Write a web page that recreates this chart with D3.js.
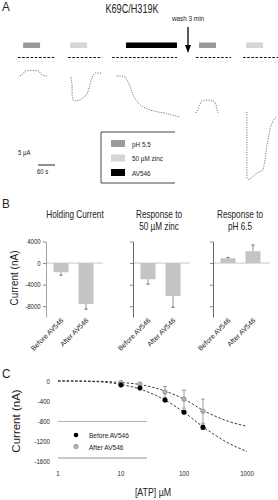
<!DOCTYPE html>
<html><head><meta charset="utf-8">
<script src="https://cdn.jsdelivr.net/npm/d3@7"></script>
<style>body{margin:0;background:#fff}svg{display:block}text{font-family:"Liberation Sans",Arial,sans-serif;fill:#222}</style>
</head><body><script>
// ---------- Panel A data ----------
const agentLabels = ["pH 5.5", "50 µM zinc", "AV546"];
const agentColors = ["#9b9b9b", "#d6d6d6", "#000000"];
const appAgent = [0, 1, 2, 0, 1];
const appStart = [18, 184, 381, 639, 805];   // s
const appEnd   = [78, 244, 561, 699, 865];   // s
const sweepStart = [0, 177, 332, 628, 794];  // s
const sweepEnd   = [131, 297, 561, 752, 918];
const washTime = 600;
// traces: [time s, current µA]
const trace1 = [[7,0],[14,0.25],[25,1.25],[46,1.4],[74,1.25],[81,0.5],[88,0.1],[102,0]];
const trace2 = [[187,-0.25],[191,-2.25],[191,-5],[194,-6],[205,-6.25],[219,-6],[233,-5.25],[244,-4.5],[251,-3],[258,-1],[265,0.25],[272,0.75],[297,0.75]];
const trace3 = [[349,0],[364,0],[378,-0.25],[385,-1],[392,-2],[399,-3.25],[409,-5.25],[424,-6.75],[441,-7.75],[466,-8.5],[494,-9],[519,-9.25],[544,-9.75],[572,-10.25]];
const trace4 = [[628,-9.25],[635,-8.5],[639,-7.5],[646,-6.5],[657,-6.1],[671,-6],[688,-6.25],[695,-6.5],[699,-7.25],[702,-8.25],[706,-9.25]];
const trace5 = [[808,-9],[808,-16],[808,-25.5],[815,-26],[826,-25.25],[844,-24.25],[865,-23.5],[872,-21],[879,-17.25],[890,-13],[900,-11.25],[911,-10.25]];
const traces = [trace1, trace2, trace3, trace4, trace5];

// ---------- Panel B data ----------
const bConditions = ["Before AV546", "After AV546"];
const bTitles = [["Holding Current"], ["Response to", "50 µM zinc"], ["Response to", "pH 6.5"]];
const holdingMean = [-1700, -7600], holdingErr = [550, 950];
const zincMean = [-3000, -6100], zincErr = [900, 2100];
const phMean = [900, 2200], phErr = [150, 1150];
const bTicks = [4000, 0, -4000, -8000];

// ---------- Panel C data ----------
const atpConc = [10, 20, 50, 100, 200];
const beforeMean = [-80, -140, -380, -620, -920];
const beforeErr = [10, 15, 20, 25, 40];
const afterMean = [-30, -60, -220, -360, -600];
const afterErr = [15, 25, 110, 180, 240];
const fitConc = [1, 2, 5, 10, 20, 50, 100, 200, 500, 1000];
const beforeFit = [0, -3, -20, -70, -160, -380, -620, -910, -1230, -1400];
const afterFit = [0, -1, -8, -30, -70, -200, -360, -580, -800, -900];
const cYTicks = [0, -400, -800, -1200, -1600];
const cXTicks = [1, 10, 100, 1000];

const W = 278, H = 500, SX = 0.8;
const svg = d3.select("body").append("svg").attr("width", W).attr("height", H);

function txt(g, x, y, s, size, anchor = "start", sx = SX) {
  return g.append("text").attr("transform", `translate(${x},${y}) scale(${sx},1)`)
    .attr("font-size", size).attr("text-anchor", anchor).text(s);
}

// ================= Panel A =================
const A = svg.append("g");
txt(A, 2, 11, "A", 13, "start", 0.9);
txt(A, 132, 13, "K69C/H319K", 12, "middle", 0.76);
const tS = d3.scaleLinear().domain([0, 60]).range([18, 35]);
const iS = d3.scaleLinear().domain([0, 5]).range([76, 56]);

A.selectAll("rect.app").data(appAgent).join("rect")
  .attr("x", (d, i) => tS(appStart[i])).attr("width", (d, i) => tS(appEnd[i]) - tS(appStart[i]))
  .attr("y", 42.5).attr("height", 5.5).attr("fill", d => agentColors[d]);

A.selectAll("line.base").data(sweepStart).join("line")
  .attr("x1", d => tS(d)).attr("x2", (d, i) => tS(sweepEnd[i]))
  .attr("y1", 57.5).attr("y2", 57.5).attr("stroke", "#111").attr("stroke-width", 1)
  .attr("stroke-dasharray", "2.6,1.6");
A.selectAll("line.base2").data(sweepStart).join("line")
  .attr("x1", d => tS(d)).attr("x2", (d, i) => tS(sweepEnd[i]))
  .attr("y1", 61.5).attr("y2", 61.5).attr("stroke", "#d4d4d4").attr("stroke-width", 0.7)
  .attr("stroke-dasharray", "1,1.5");

const wx = tS(washTime);
txt(A, wx, 21, "wash 3 min", 7.5, "middle", 0.85);
A.append("line").attr("x1", wx).attr("x2", wx).attr("y1", 27).attr("y2", 46).attr("stroke", "#000").attr("stroke-width", 1.3);
A.append("path").attr("d", `M${wx - 3},45 L${wx + 3},45 L${wx},53 Z`).attr("fill", "#000");

const tLine = d3.line().x(d => tS(d[0])).y(d => iS(d[1]));
A.selectAll("path.trace").data(traces).join("path")
  .attr("d", tLine).attr("fill", "none").attr("stroke", "#555").attr("stroke-width", 0.8)
  .attr("stroke-dasharray", "1.2,1.3");

txt(A, 18, 155, "5 µA", 7, "start", 0.85);
A.append("line").attr("x1", 38).attr("x2", 38 + tS(60) - tS(0)).attr("y1", 165).attr("y2", 165)
  .attr("stroke", "#222").attr("stroke-width", 1);
txt(A, 37, 174, "60 s", 7, "start", 0.85);

const LB = A.append("g");
LB.append("path").attr("d", "M175,132 H101 V183 H175").attr("fill", "none").attr("stroke", "#333").attr("stroke-width", 0.9);
agentLabels.forEach((l, i) => {
  const y = 140 + i * 14.5;
  LB.append("rect").attr("x", 111).attr("y", y).attr("width", 14).attr("height", 7).attr("fill", agentColors[i]);
  txt(LB, 132, y + 6.5, l, 7.5, "start", 0.85);
});

// ================= Panel B =================
const B = svg.append("g");
txt(B, 2, 208, "B", 13, "start", 0.9);
const yB = d3.scaleLinear().domain([-10000, 4000]).range([317, 241.5]);
const bMeans = [holdingMean, zincMean, phMean];
const bErrs = [holdingErr, zincErr, phErr];
const axX = [46, 133, 213];
const titleX = [75, 159, 240];
axX.forEach((ax, k) => {
  const g = B.append("g");
  const xb = d3.scaleBand().domain(bConditions).range([ax, ax + 55]).paddingInner(0.4).paddingOuter(0.3);
  bTitles[k].forEach((line, j) => txt(g, titleX[k], 218 + j * 11.5, line, 10, "middle", 0.82));
  g.append("line").attr("x1", ax).attr("x2", ax + 57).attr("y1", yB(0)).attr("y2", yB(0)).attr("stroke", "#bbb").attr("stroke-width", 0.8);
  const axis = d3.axisLeft(yB).tickValues(bTicks).tickSize(3).tickSizeOuter(0)
    .tickFormat(k === 0 ? d => String(d) : () => "");
  const ag = g.append("g").attr("transform", `translate(${ax},0)`).call(axis);
  ag.select(".domain").attr("stroke", k === 0 ? "#999" : "#555").attr("stroke-width", 0.9);
  ag.selectAll(".tick line").attr("stroke", "#888");
  ag.selectAll(".tick text").attr("font-size", 7).attr("fill", "#333").attr("font-family", "Liberation Sans, Arial")
    .attr("transform", "scale(0.85,1)").attr("x", -5.5 / 0.85);
  g.selectAll("rect").data(bMeans[k]).join("rect")
    .attr("x", (d, i) => xb(bConditions[i])).attr("width", xb.bandwidth())
    .attr("y", d => yB(Math.max(0, d))).attr("height", d => Math.abs(yB(d) - yB(0)))
    .attr("fill", "#c4c4c4");
  bMeans[k].forEach((m, i) => {
    const cx = xb(bConditions[i]) + xb.bandwidth() / 2;
    const e = m + Math.sign(m) * bErrs[k][i];
    g.append("line").attr("x1", cx).attr("x2", cx).attr("y1", yB(m)).attr("y2", yB(e)).attr("stroke", "#777").attr("stroke-width", 0.8);
    g.append("line").attr("x1", cx - 1.5).attr("x2", cx + 1.5).attr("y1", yB(e)).attr("y2", yB(e)).attr("stroke", "#555").attr("stroke-width", 0.9);
    g.append("text").attr("transform", `translate(${cx + 3},321) rotate(-45)`)
      .attr("font-size", 7).attr("text-anchor", "end").text(bConditions[i]);
  });
});
B.append("text").attr("transform", "translate(18,278) rotate(-90)")
  .attr("font-size", 10).attr("text-anchor", "middle").text("Current (nA)");

// ================= Panel C =================
const C = svg.append("g");
txt(C, 2, 378, "C", 13, "start", 0.9);
const xC = d3.scaleLog().domain([1, 1000]).range([58, 247]);
const yC = d3.scaleLinear().domain([-1600, 0]).range([461.5, 381]);
cYTicks.forEach(t => txt(C, 50, yC(t) + 2.5, String(t), 7.2, "end", 0.85));
cXTicks.forEach(t => txt(C, xC(t), 476, String(t), 7.2, "middle", 0.85));
C.append("line").attr("x1", 58).attr("x2", 147).attr("y1", 421.5).attr("y2", 421.5).attr("stroke", "#aaa").attr("stroke-width", 0.9);
C.append("line").attr("x1", 58).attr("x2", 147).attr("y1", 458).attr("y2", 458).attr("stroke", "#888").attr("stroke-width", 0.9);
const fitLine = arr => d3.line().x((d, i) => xC(fitConc[i])).y(d => yC(d)).curve(d3.curveMonotoneX)(arr);
[beforeFit, afterFit].forEach(f => {
  C.append("path").attr("d", fitLine(f)).attr("fill", "none").attr("stroke", "#222")
    .attr("stroke-width", 0.9).attr("stroke-dasharray", "2.5,1.8");
});
function series(means, errs, fill, stroke) {
  means.forEach((m, i) => {
    const cx = xC(atpConc[i]);
    C.append("line").attr("x1", cx).attr("x2", cx).attr("y1", yC(m - errs[i])).attr("y2", yC(m + errs[i])).attr("stroke", stroke).attr("stroke-width", 0.8);
    [m - errs[i], m + errs[i]].forEach(v => C.append("line").attr("x1", cx - 2).attr("x2", cx + 2).attr("y1", yC(v)).attr("y2", yC(v)).attr("stroke", stroke).attr("stroke-width", 0.8));
  });
  C.append("g").selectAll("circle").data(means).join("circle")
    .attr("cx", (d, i) => xC(atpConc[i])).attr("cy", d => yC(d)).attr("r", 2.3)
    .attr("fill", fill).attr("stroke", stroke).attr("stroke-width", 0.6);
}
series(afterMean, afterErr, "#b0b0b0", "#888");
series(beforeMean, beforeErr, "#000", "#000");
C.append("circle").attr("cx", 76).attr("cy", 435).attr("r", 2.3).attr("fill", "#000");
txt(C, 89, 438, "Before AV546", 8, "start", 0.82);
C.append("circle").attr("cx", 76).attr("cy", 446.5).attr("r", 2.3).attr("fill", "#b0b0b0").attr("stroke", "#888").attr("stroke-width", 0.6);
txt(C, 89, 449.5, "After AV546", 8, "start", 0.82);
C.append("text").attr("transform", "translate(19.5,421) rotate(-90)")
  .attr("font-size", 11.5).attr("text-anchor", "middle").text("Current (nA)");
txt(C, 153, 496, "[ATP] µM", 11, "middle", 0.8);
</script></body></html>
